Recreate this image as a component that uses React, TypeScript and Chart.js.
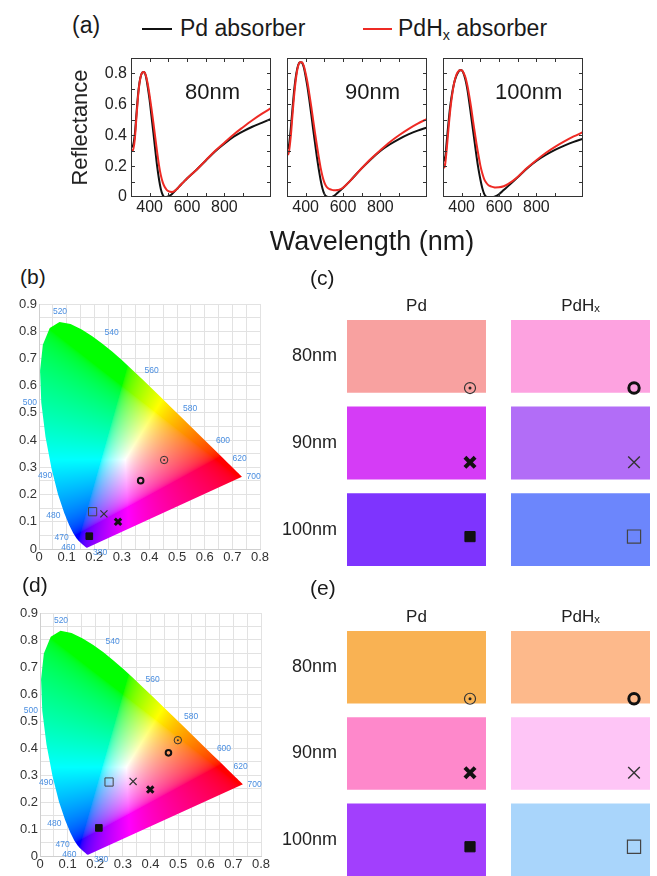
import React, { useEffect, useRef } from 'react';
import { Chart, registerables } from 'chart.js';
Chart.register(...registerables);

const FONT = '"Liberation Sans", Arial, Helvetica, sans-serif';
const BLACK = '#111111';
const RED = '#ee2a24';

// ---------- (a) reflectance spectra ----------
const wavelengths = [300, 305, 310, 320, 330, 340, 350, 360, 370, 380, 390, 400, 410, 420, 430, 440, 450, 460, 470, 480, 490, 500, 510, 520, 530, 540, 550, 560, 570, 580, 600, 625, 650, 700, 750, 800, 850, 900, 950, 1000, 1050];
const pd80 = [0.33, 0.325, 0.33, 0.40, 0.55, 0.69, 0.77, 0.805, 0.81, 0.78, 0.71, 0.625, 0.52, 0.415, 0.305, 0.20, 0.115, 0.05, 0.013, 0.0, 0.0, 0.004, 0.011, 0.02, 0.032, 0.045, 0.057, 0.07, 0.083, 0.095, 0.12, 0.148, 0.175, 0.235, 0.295, 0.345, 0.39, 0.425, 0.455, 0.48, 0.505];
const pdhx80 = [0.31, 0.30, 0.30, 0.37, 0.53, 0.68, 0.77, 0.805, 0.81, 0.785, 0.73, 0.655, 0.57, 0.48, 0.385, 0.29, 0.205, 0.14, 0.095, 0.066, 0.048, 0.038, 0.034, 0.033, 0.036, 0.045, 0.057, 0.07, 0.083, 0.095, 0.12, 0.148, 0.175, 0.237, 0.298, 0.352, 0.405, 0.452, 0.497, 0.538, 0.575];
const pd90 = [0.33, 0.315, 0.33, 0.44, 0.58, 0.71, 0.80, 0.855, 0.873, 0.87, 0.84, 0.78, 0.71, 0.625, 0.535, 0.44, 0.35, 0.26, 0.18, 0.11, 0.055, 0.02, 0.004, 0.0, 0.0, 0.0, 0.006, 0.015, 0.026, 0.037, 0.058, 0.088, 0.12, 0.185, 0.245, 0.298, 0.34, 0.375, 0.405, 0.43, 0.45];
const pdhx90 = [0.29, 0.275, 0.29, 0.39, 0.54, 0.68, 0.785, 0.85, 0.873, 0.872, 0.85, 0.80, 0.74, 0.665, 0.585, 0.50, 0.415, 0.335, 0.26, 0.19, 0.135, 0.095, 0.07, 0.056, 0.05, 0.046, 0.044, 0.044, 0.045, 0.048, 0.06, 0.088, 0.12, 0.186, 0.248, 0.303, 0.355, 0.40, 0.44, 0.475, 0.505];
const pd100 = [0.27, 0.235, 0.24, 0.36, 0.49, 0.60, 0.68, 0.74, 0.78, 0.805, 0.82, 0.82, 0.80, 0.76, 0.70, 0.62, 0.53, 0.44, 0.35, 0.26, 0.18, 0.115, 0.06, 0.022, 0.004, 0.0, 0.0, 0.0, 0.0, 0.003, 0.018, 0.045, 0.072, 0.128, 0.185, 0.233, 0.272, 0.305, 0.333, 0.357, 0.377];
const pdhx100 = [0.22, 0.19, 0.20, 0.31, 0.45, 0.575, 0.67, 0.74, 0.785, 0.81, 0.82, 0.82, 0.805, 0.775, 0.725, 0.66, 0.585, 0.50, 0.42, 0.34, 0.27, 0.205, 0.155, 0.118, 0.095, 0.08, 0.072, 0.067, 0.064, 0.062, 0.063, 0.07, 0.085, 0.13, 0.187, 0.238, 0.285, 0.325, 0.36, 0.392, 0.42];
const thicknessLabels = ['80nm', '90nm', '100nm'];
const xTickLabels = [400, 600, 800];
const yTickLabels = [0, 0.2, 0.4, 0.6, 0.8];

// ---------- CIE 1931 spectral locus ----------
const locusNm = [380, 385, 390, 395, 400, 405, 410, 415, 420, 425, 430, 435, 440, 445, 450, 455, 460, 465, 470, 475, 480, 485, 490, 495, 500, 505, 510, 515, 520, 525, 530, 535, 540, 545, 550, 555, 560, 565, 570, 575, 580, 585, 590, 595, 600, 605, 610, 615, 620, 625, 630, 635, 640, 645, 650, 655, 660, 665, 670, 675, 680, 685, 690, 695, 700];
const locusX = [0.1741, 0.1740, 0.1738, 0.1736, 0.1733, 0.1730, 0.1726, 0.1721, 0.1714, 0.1703, 0.1689, 0.1669, 0.1644, 0.1611, 0.1566, 0.1510, 0.1440, 0.1355, 0.1241, 0.1096, 0.0913, 0.0687, 0.0454, 0.0235, 0.0082, 0.0039, 0.0139, 0.0389, 0.0743, 0.1142, 0.1547, 0.1929, 0.2296, 0.2658, 0.3016, 0.3373, 0.3731, 0.4087, 0.4441, 0.4788, 0.5125, 0.5448, 0.5752, 0.6029, 0.6270, 0.6482, 0.6658, 0.6801, 0.6915, 0.7006, 0.7079, 0.7140, 0.7190, 0.7230, 0.7260, 0.7283, 0.7300, 0.7311, 0.7320, 0.7327, 0.7334, 0.7340, 0.7344, 0.7346, 0.7347];
const locusY = [0.0050, 0.0050, 0.0049, 0.0049, 0.0048, 0.0048, 0.0048, 0.0048, 0.0051, 0.0058, 0.0069, 0.0086, 0.0109, 0.0138, 0.0177, 0.0227, 0.0297, 0.0399, 0.0578, 0.0868, 0.1327, 0.2007, 0.2950, 0.4127, 0.5384, 0.6548, 0.7502, 0.8120, 0.8338, 0.8262, 0.8059, 0.7816, 0.7543, 0.7243, 0.6923, 0.6589, 0.6245, 0.5896, 0.5547, 0.5202, 0.4866, 0.4544, 0.4242, 0.3965, 0.3725, 0.3514, 0.3340, 0.3197, 0.3083, 0.2993, 0.2920, 0.2859, 0.2809, 0.2770, 0.2740, 0.2717, 0.2700, 0.2689, 0.2680, 0.2673, 0.2666, 0.2660, 0.2656, 0.2654, 0.2653];
const wlLabelText = ['520', '540', '560', '580', '600', '620', '700', '500', '490', '480', '470', '460', '380'];
const wlLabelX = [0.076, 0.263, 0.408, 0.547, 0.666, 0.726, 0.777, -0.033, 0.022, 0.052, 0.082, 0.106, 0.221];
const wlLabelY = [0.872, 0.793, 0.654, 0.515, 0.397, 0.331, 0.264, 0.538, 0.27, 0.121, 0.043, 0.006, -0.012];

// ---------- samples (order: Pd 80, PdHx 80, Pd 90, PdHx 90, Pd 100, PdHx 100) ----------
const sampleNames = ['Pd 80nm', 'PdHx 80nm', 'Pd 90nm', 'PdHx 90nm', 'Pd 100nm', 'PdHx 100nm'];
const cieBx = [0.453, 0.368, 0.286, 0.235, 0.182, 0.194];
const cieBy = [0.327, 0.251, 0.100, 0.129, 0.047, 0.137];
const cieDx = [0.499, 0.465, 0.399, 0.337, 0.213, 0.250];
const cieDy = [0.429, 0.382, 0.246, 0.276, 0.104, 0.274];

// ---------- swatches ----------
const swatchRows = ['80nm', '90nm', '100nm'];
const swatchCols = ['Pd', 'PdH\u2093'];
const swatchCPd = ['#F8A1A0', '#D53CF6', '#7E34FE'];
const swatchCPdHx = ['#FDA2E0', '#B26DF7', '#6C86FC'];
const swatchEPd = ['#F9B253', '#FE88CB', '#A23FFD'];
const swatchEPdHx = ['#FDB98B', '#FEC5F6', '#A9D5FB'];

// marker styling (same order as samples)
const markerStyles = ['circle', 'circle', 'crossRot', 'crossRot', 'rect', 'rect'];
const markerFill = ['rgba(0,0,0,0)', 'rgba(0,0,0,0)', '#111', '#111', '#111', 'rgba(0,0,0,0)'];
const markerStroke = ['#333', '#111', '#111', '#333', '#111', '#444'];
const cieRadius = [3.7, 2.8, 4.5, 5.0, 4.7, 5.8];
const cieBorder = [1, 2, 3, 1.2, 1, 1];
const swRadius = [5.5, 5.2, 7.2, 8.2, 7.2, 9.3];
const swBorder = [1.2, 3, 4, 1.4, 1, 1.2];

// ---------- plugins ----------
const frameTicksPlugin = {
  id: 'frameTicks',
  afterDatasetsDraw(chart: any) {
    const { ctx, chartArea: ca, scales } = chart;
    const x = scales.x, y = scales.y;
    ctx.save();
    ctx.strokeStyle = '#333';
    ctx.lineWidth = 1;
    ctx.strokeRect(Math.round(ca.left) + 0.5, Math.round(ca.top) + 0.5, Math.round(ca.right - ca.left) - 1, Math.round(ca.bottom - ca.top) - 1);
    const L = 4;
    ctx.beginPath();
    y.ticks.forEach((t: any) => {
      const p = y.getPixelForValue(t.value);
      if (p < ca.top + 2 || p > ca.bottom - 2) return;
      const py = Math.round(p) + 0.5;
      ctx.moveTo(ca.left, py); ctx.lineTo(ca.left + L, py);
      ctx.moveTo(ca.right - L, py); ctx.lineTo(ca.right, py);
    });
    x.ticks.forEach((t: any) => {
      const p = x.getPixelForValue(t.value);
      if (p < ca.left + 2 || p > ca.right - 2) return;
      const px = Math.round(p) + 0.5;
      ctx.moveTo(px, ca.bottom); ctx.lineTo(px, ca.bottom - L);
      ctx.moveTo(px, ca.top); ctx.lineTo(px, ca.top + L);
    });
    ctx.stroke();
    ctx.restore();
  },
};

function xyToRgb(x: number, y: number) {
  const yy = Math.max(y, 1e-4);
  const X = x / yy, Y = 1, Z = (1 - x - yy) / yy;
  let r = 3.2406 * X - 1.5372 * Y - 0.4986 * Z;
  let g = -0.9689 * X + 1.8758 * Y + 0.0415 * Z;
  let b = 0.0557 * X - 0.2040 * Y + 1.0570 * Z;
  r = Math.max(r, 0); g = Math.max(g, 0); b = Math.max(b, 0);
  const m = Math.max(r, g, b) || 1;
  const gam = (c: number) => {
    c = c / m;
    return Math.round(255 * (c <= 0.0031308 ? 12.92 * c : 1.055 * Math.pow(c, 1 / 2.4) - 0.055));
  };
  return [gam(r), gam(g), gam(b)];
}

const gamutPlugin = {
  id: 'gamut',
  beforeDatasetsDraw(chart: any) {
    const { ctx, chartArea: ca, scales } = chart;
    const xs = scales.x, ys = scales.y;
    const w = Math.round(ca.right - ca.left), h = Math.round(ca.bottom - ca.top);
    const off = document.createElement('canvas');
    off.width = w; off.height = h;
    const octx = off.getContext('2d')!;
    const img = octx.createImageData(w, h);
    for (let j = 0; j < h; j++) {
      const yv = ys.getValueForPixel(ca.top + j + 0.5);
      for (let i = 0; i < w; i++) {
        const xv = xs.getValueForPixel(ca.left + i + 0.5);
        const [r, g, b] = xyToRgb(xv, yv);
        const k = (j * w + i) * 4;
        img.data[k] = r; img.data[k + 1] = g; img.data[k + 2] = b; img.data[k + 3] = 255;
      }
    }
    octx.putImageData(img, 0, 0);
    const meta = chart.getDatasetMeta(chart.data.datasets.length - 1);
    ctx.save();
    ctx.beginPath();
    meta.data.forEach((p: any, k: number) => (k ? ctx.lineTo(p.x, p.y) : ctx.moveTo(p.x, p.y)));
    ctx.closePath();
    ctx.clip();
    ctx.drawImage(off, ca.left, ca.top);
    ctx.restore();
  },
  afterDraw(chart: any) {
    const { ctx, scales } = chart;
    ctx.save();
    ctx.font = `8.5px ${FONT}`;
    ctx.fillStyle = '#4a8ee0';
    ctx.textAlign = 'center';
    ctx.textBaseline = 'middle';
    wlLabelText.forEach((t, k) => {
      ctx.fillText(t, scales.x.getPixelForValue(wlLabelX[k]), scales.y.getPixelForValue(wlLabelY[k]));
    });
    ctx.restore();
  },
};

// fix an axis box size and drop label overflow padding so the plot area is exact
const fixW = (w: number) => (s: any) => { s.width = w; s.paddingTop = 0; s.paddingBottom = 0; s.paddingLeft = 0; s.paddingRight = 0; };
const fixH = (h: number) => (s: any) => { s.height = h; s.paddingTop = 0; s.paddingBottom = 0; s.paddingLeft = 0; s.paddingRight = 0; };

// ---------- configs ----------
const baseOpts = {
  animation: false,
  responsive: false,
  devicePixelRatio: 1,
  events: [],
};

function spectraConfig(idx: number): any {
  const series = [[pd80, pdhx80], [pd90, pdhx90], [pd100, pdhx100]][idx];
  const near = (list: number[], v: number) => list.some((t) => Math.abs(t - v) < 1e-6);
  return {
    type: 'line',
    data: {
      datasets: [
        { label: 'PdHx absorber', data: wavelengths.map((w, k) => ({ x: w, y: series[1][k] })), borderColor: RED, borderWidth: 2, pointRadius: 0, cubicInterpolationMode: 'monotone' },
        { label: 'Pd absorber', data: wavelengths.map((w, k) => ({ x: w, y: series[0][k] })), borderColor: BLACK, borderWidth: 2, pointRadius: 0, cubicInterpolationMode: 'monotone' },
      ],
    },
    options: {
      ...baseOpts,
      layout: { autoPadding: false, padding: { left: 0, top: 18, right: 12, bottom: 0 } },
      plugins: { legend: { display: false }, tooltip: { enabled: false } },
      scales: {
        x: {
          type: 'linear', min: 300, max: 1050,
          afterFit: fixH(43),
          grid: { display: false, drawTicks: false }, border: { display: false },
          ticks: { stepSize: 100, autoSkip: false, maxRotation: 0, padding: 1, color: '#222', font: { family: FONT, size: 16 },
            callback: (v: number) => (near(xTickLabels, v) ? String(v) : '') },
        },
        y: {
          type: 'linear', min: 0, max: 0.9,
          afterFit: fixW(71),
          grid: { display: false, drawTicks: false }, border: { display: false },
          ticks: { display: idx === 0, stepSize: 0.1, autoSkip: false, padding: 4, color: '#222', font: { family: FONT, size: 16 },
            callback: (v: number) => (near(yTickLabels, v) ? (Math.abs(v) < 1e-9 ? '0' : v.toFixed(1)) : '') },
          title: { display: idx === 0, text: 'Reflectance', color: '#222', font: { family: FONT, size: 22 }, padding: { top: 8, bottom: 0 } },
        },
      },
    },
    plugins: [frameTicksPlugin],
  };
}

function cieConfig(mx: number[], my: number[], xAxisH: number, yAxisW: number, topPad: number, rightPad: number): any {
  const tenth = (v: number) => Math.abs(v * 10 - Math.round(v * 10)) < 1e-6;
  const fmt = (v: number) => (Math.abs(v) < 1e-9 ? '0' : v.toFixed(1));
  return {
    type: 'scatter',
    data: {
      datasets: [
        { label: 'dot', data: [{ x: mx[0], y: my[0] }], pointStyle: 'circle', pointRadius: 1, pointBorderWidth: 0, pointBackgroundColor: '#333' },
        { label: 'samples', data: mx.map((x, k) => ({ x, y: my[k] })), pointStyle: markerStyles, pointRadius: cieRadius, pointBorderWidth: cieBorder, pointBackgroundColor: markerFill, pointBorderColor: markerStroke },
        { label: 'locus', data: locusX.map((x, k) => ({ x, y: locusY[k], nm: locusNm[k] })), pointRadius: 0, showLine: false },
      ],
    },
    options: {
      ...baseOpts,
      layout: { autoPadding: false, padding: { left: 0, top: topPad, right: rightPad, bottom: 0 } },
      plugins: { legend: { display: false }, tooltip: { enabled: false } },
      scales: {
        x: {
          type: 'linear', min: 0, max: 0.8,
          afterFit: fixH(xAxisH),
          grid: { color: '#e2e2e2', drawTicks: false }, border: { color: '#cfcfcf' },
          ticks: { stepSize: 0.05, autoSkip: false, maxRotation: 0, padding: 1, color: '#333', font: { family: FONT, size: 13 },
            callback: (v: number) => (tenth(v) ? fmt(v) : '') },
        },
        y: {
          type: 'linear', min: 0, max: 0.9,
          afterFit: fixW(yAxisW),
          grid: { color: '#e2e2e2', drawTicks: false }, border: { color: '#cfcfcf' },
          ticks: { stepSize: 0.05, autoSkip: false, padding: 2, color: '#333', font: { family: FONT, size: 13 },
            callback: (v: number) => (tenth(v) ? fmt(v) : '') },
        },
      },
    },
    plugins: [gamutPlugin],
  };
}

const colSpans = [[0, 1], [1.18, 2.18]];
function swatchConfig(pdColors: string[], pdhxColors: string[], topAxisH: number, bottomPad: number): any {
  const markerColX = colSpans.map((c) => c[1] - 0.115);
  const mX = sampleNames.map((_, k) => markerColX[k % 2]);
  const mY = sampleNames.map((_, k) => Math.floor(k / 2) + 0.26);
  return {
    type: 'bar',
    data: {
      labels: swatchRows,
      datasets: [
        { type: 'scatter', label: 'dot', xAxisID: 'x', yAxisID: 'ym', data: [{ x: mX[0], y: mY[0] }], pointStyle: 'circle', pointRadius: 1.5, pointBorderWidth: 0, pointBackgroundColor: '#222' },
        { type: 'scatter', label: 'samples', xAxisID: 'x', yAxisID: 'ym', data: mX.map((x, k) => ({ x, y: mY[k] })), pointStyle: markerStyles, pointRadius: swRadius, pointBorderWidth: swBorder, pointBackgroundColor: markerFill, pointBorderColor: markerStroke },
        { type: 'bar', label: 'Pd', indexAxis: 'y', xAxisID: 'x', yAxisID: 'y', data: swatchRows.map(() => colSpans[0]), backgroundColor: pdColors, grouped: false, barPercentage: 0.84, categoryPercentage: 1, borderWidth: 0 },
        { type: 'bar', label: 'PdHx', indexAxis: 'y', xAxisID: 'x', yAxisID: 'y', data: swatchRows.map(() => colSpans[1]), backgroundColor: pdhxColors, grouped: false, barPercentage: 0.84, categoryPercentage: 1, borderWidth: 0 },
      ],
    },
    options: {
      ...baseOpts,
      indexAxis: 'y',
      layout: { autoPadding: false, padding: { left: 0, top: 0, right: 7, bottom: bottomPad } },
      plugins: { legend: { display: false }, tooltip: { enabled: false } },
      scales: {
        x: {
          type: 'linear', axis: 'x', position: 'top', min: 0, max: 2.18,
          afterFit: fixH(topAxisH),
          afterBuildTicks: (s: any) => { s.ticks = colSpans.map((c) => ({ value: (c[0] + c[1]) / 2 })); },
          grid: { display: false, drawTicks: false }, border: { display: false },
          ticks: { autoSkip: false, maxRotation: 0, padding: -4, color: '#222', font: { family: FONT, size: 17 },
            callback: (_v: number, i: number) => swatchCols[i] },
        },
        y: {
          type: 'category', axis: 'y', position: 'left', labels: swatchRows, offset: true,
          afterFit: fixW(87),
          grid: { display: false, drawTicks: false }, border: { display: false },
          ticks: { autoSkip: false, padding: 10, color: '#222', font: { family: FONT, size: 18 } },
        },
        ym: { type: 'linear', axis: 'y', display: false, min: -0.5, max: 2.5, reverse: true },
      },
    },
  };
}

function ChartBox({ left, top, width, height, make }: { left: number; top: number; width: number; height: number; make: () => any }) {
  const ref = useRef<HTMLCanvasElement>(null);
  useEffect(() => {
    const chart = new Chart(ref.current as HTMLCanvasElement, make());
    return () => chart.destroy();
  }, []);
  return <canvas ref={ref} width={width} height={height} style={{ position: 'absolute', left, top, width, height }} />;
}

const txt = (size: number): React.CSSProperties => ({ position: 'absolute', fontFamily: FONT, fontSize: size, lineHeight: `${size}px`, color: '#1a1a1a', whiteSpace: 'nowrap' });

export default function App() {
  const plotLefts = [60, 216, 372];
  const nmLeft = [185, 345, 495];
  return (
    <div style={{ position: 'fixed', left: 0, top: 0, width: 657, height: 876, overflow: 'hidden', background: '#fff' }}>
      {/* (a) header & legend */}
      <div style={{ ...txt(23), left: 72, top: 14 }}>(a)</div>
      <div style={{ position: 'absolute', left: 142, top: 28, width: 30, height: 2, background: BLACK }} />
      <div style={{ ...txt(23), left: 180, top: 17 }}>Pd absorber</div>
      <div style={{ position: 'absolute', left: 363, top: 28, width: 29, height: 2, background: RED }} />
      <div style={{ ...txt(23), left: 398, top: 17 }}>
        PdH<sub style={{ fontSize: '0.62em', verticalAlign: '-0.3em', lineHeight: 0 }}>x</sub> absorber
      </div>
      {plotLefts.map((l, i) => (
        <ChartBox key={i} left={l} top={40} width={223} height={200} make={() => spectraConfig(i)} />
      ))}
      {thicknessLabels.map((t, i) => (
        <div key={t} style={{ ...txt(22), left: nmLeft[i], top: 81 }}>{t}</div>
      ))}
      <div style={{ ...txt(27), left: 242, width: 260, textAlign: 'center', top: 228 }}>Wavelength (nm)</div>

      {/* (b) & (c) */}
      <div style={{ ...txt(21), left: 20, top: 266 }}>(b)</div>
      <div style={{ ...txt(21), left: 310, top: 267 }}>(c)</div>
      <ChartBox left={0} top={260} width={280} height={310} make={() => cieConfig(cieBx, cieBy, 21, 39, 44, 20)} />
      <ChartBox left={260} top={290} width={397} height={290} make={() => swatchConfig(swatchCPd, swatchCPdHx, 23, 7)} />

      {/* (d) & (e) */}
      <div style={{ ...txt(21), left: 22, top: 574 }}>(d)</div>
      <div style={{ ...txt(21), left: 310, top: 577 }}>(e)</div>
      <ChartBox left={0} top={570} width={280} height={306} make={() => cieConfig(cieDx, cieDy, 20, 40, 43, 19)} />
      <ChartBox left={260} top={590} width={397} height={300} make={() => swatchConfig(swatchEPd, swatchEPdHx, 34, 7)} />
    </div>
  );
}
